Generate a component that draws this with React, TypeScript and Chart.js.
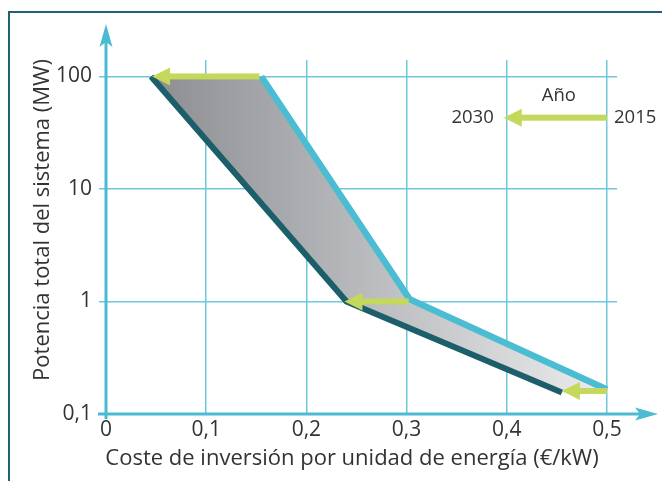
import React, { useEffect, useRef } from "react";
import { Chart, registerables } from "chart.js";

Chart.register(...registerables);

// Axis ticks
const xTicks = [0, 0.1, 0.2, 0.3, 0.4, 0.5];
const xTickLabels = ["0", "0,1", "0,2", "0,3", "0,4", "0,5"];
const yTicks = [0.1, 1, 10, 100];
const yTickLabels = ["0,1", "1", "10", "100"];

// Lower boundary: 2030 investment cost per unit of energy vs. total system power
const cost2030 = [0.045, 0.24, 0.455];
const power2030 = [100, 1, 0.155];

// Upper boundary: 2015
const cost2015 = [0.155, 0.303, 0.5];
const power2015 = [100, 1.05, 0.165];

// Shift arrows, from the 2015 cost to the 2030 cost at the same power
const arrowFromCost = [0.153, 0.302, 0.5];
const arrowToCost = [0.046, 0.238, 0.455];
const arrowPower = [100, 1, 0.16];

// Key: "2030 <- 2015"
const keyTitle = "Año";
const keyFromLabel = "2015";
const keyToLabel = "2030";
const keyFromCost = 0.5;
const keyToCost = 0.397;
const keyPower = 43;
const keyTitleCost = 0.452;
const keyTitlePower = 67;

const xTitle = "Coste de inversión por unidad de energía (€/kW)";
const yTitle = "Potencia total del sistema (MW)";

const FONT = '"Open Sans", "DejaVu Sans", sans-serif';
const TEXT = "#333333";
const AXIS = "#4abbd1";
const GRID = "#6cc8da";
const LIGHT = "#4bbdd3";
const DARK = "#1c5f6a";
const GREEN = "#c4d85c";
const FRAME = "#1f6470";

const toPoints = (xs: number[], ys: number[]) => xs.map((x, i) => ({ x, y: ys[i] }));

function drawArrow(ctx: CanvasRenderingContext2D, x1: number, y: number, x2: number) {
  // horizontal arrow from x1 to tip x2 (pointing left)
  const headLen = 18;
  const headHalf = 9;
  const shaft = 6;
  ctx.save();
  ctx.fillStyle = GREEN;
  ctx.fillRect(x2 + headLen - 1, y - shaft / 2, x1 - (x2 + headLen - 1), shaft);
  ctx.beginPath();
  ctx.moveTo(x2, y);
  ctx.lineTo(x2 + headLen, y - headHalf);
  ctx.lineTo(x2 + headLen, y + headHalf);
  ctx.closePath();
  ctx.fill();
  ctx.restore();
}

const decor = {
  id: "decor",
  beforeDraw(chart: any) {
    const { ctx, width, height } = chart;
    ctx.save();
    ctx.fillStyle = "#ffffff";
    ctx.fillRect(0, 0, width, height);
    ctx.strokeStyle = FRAME;
    ctx.lineWidth = 2;
    ctx.beginPath();
    ctx.moveTo(9, height + 2);
    ctx.lineTo(9, 12);
    ctx.lineTo(width + 2, 12);
    ctx.stroke();
    ctx.restore();
  },
  beforeDatasetsDraw(chart: any) {
    const { ctx, chartArea, scales } = chart;
    const x0 = scales.x.getPixelForValue(0);
    const y0 = scales.y.getPixelForValue(0.1);
    ctx.save();
    ctx.strokeStyle = AXIS;
    ctx.fillStyle = AXIS;
    ctx.lineWidth = 3;
    // vertical axis with arrow
    const yTip = chartArea.top - 36;
    ctx.beginPath();
    ctx.moveTo(x0, y0 + 5);
    ctx.lineTo(x0, yTip + 16);
    ctx.stroke();
    ctx.beginPath();
    ctx.moveTo(x0, yTip);
    ctx.lineTo(x0 + 6.5, yTip + 23);
    ctx.lineTo(x0, yTip + 18);
    ctx.lineTo(x0 - 6.5, yTip + 23);
    ctx.closePath();
    ctx.fill();
    // horizontal axis with arrow
    const xTip = chartArea.right + 41;
    ctx.beginPath();
    ctx.moveTo(x0 - 8, y0);
    ctx.lineTo(xTip - 16, y0);
    ctx.stroke();
    ctx.beginPath();
    ctx.moveTo(xTip, y0);
    ctx.lineTo(xTip - 23, y0 - 6.5);
    ctx.lineTo(xTip - 18, y0);
    ctx.lineTo(xTip - 23, y0 + 6.5);
    ctx.closePath();
    ctx.fill();
    ctx.restore();
  },
  afterDatasetsDraw(chart: any) {
    const { ctx, chartArea, scales } = chart;
    const sx = scales.x;
    const sy = scales.y;
    arrowPower.forEach((p, i) => {
      drawArrow(ctx, sx.getPixelForValue(arrowFromCost[i]), sy.getPixelForValue(p), sx.getPixelForValue(arrowToCost[i]));
    });
    const ky = sy.getPixelForValue(keyPower);
    const kFrom = sx.getPixelForValue(keyFromCost);
    const kTo = sx.getPixelForValue(keyToCost);
    drawArrow(ctx, kFrom, ky, kTo);

    ctx.save();
    ctx.fillStyle = TEXT;
    ctx.font = `18.5px ${FONT}`;
    ctx.textBaseline = "middle";
    ctx.textAlign = "center";
    ctx.fillText(keyTitle, sx.getPixelForValue(keyTitleCost), sy.getPixelForValue(keyTitlePower));
    ctx.textAlign = "right";
    ctx.fillText(keyToLabel, kTo - 10, ky);
    ctx.textAlign = "left";
    ctx.fillText(keyFromLabel, kFrom + 7, ky);

    // axis titles
    ctx.font = `22px ${FONT}`;
    ctx.textAlign = "center";
    ctx.fillText(xTitle, chartArea.left + 246, chartArea.bottom + 45);
    ctx.translate(chartArea.left - 63, chartArea.top + 160);
    ctx.rotate(-Math.PI / 2);
    ctx.fillText(yTitle, 0, 0);
    ctx.restore();
  },
};

export default function App() {
  const ref = useRef<HTMLCanvasElement>(null);

  useEffect(() => {
    let chart: Chart | null = null;
    let cancelled = false;

    const build = () => {
      if (cancelled || !ref.current) return;
      const shape = [
        ...toPoints(cost2030, power2030),
        ...toPoints(cost2015, power2015).reverse(),
      ];
      chart = new Chart(ref.current, {
        type: "scatter",
        data: {
          datasets: [
            {
              label: "2030",
              data: toPoints(cost2030, power2030),
              showLine: true,
              borderColor: DARK,
              borderWidth: 6,
              borderCapStyle: "butt",
              borderJoinStyle: "miter",
              pointRadius: 0,
              order: 1,
            },
            {
              label: "2015",
              data: toPoints(cost2015, power2015),
              showLine: true,
              borderColor: LIGHT,
              borderWidth: 6.5,
              borderCapStyle: "butt",
              borderJoinStyle: "miter",
              pointRadius: 0,
              order: 2,
            },
            {
              label: "range",
              data: shape,
              showLine: true,
              borderWidth: 0,
              pointRadius: 0,
              fill: "shape",
              backgroundColor: (c: any) => {
                const { chart: ch } = c;
                const area = ch.chartArea;
                if (!area) return "#b5b6b9";
                const sx = ch.scales.x;
                const g = ch.ctx.createLinearGradient(
                  sx.getPixelForValue(Math.min(...cost2030)),
                  0,
                  sx.getPixelForValue(Math.max(...cost2015)),
                  0
                );
                g.addColorStop(0, "#8d8e92");
                g.addColorStop(1, "#ebeced");
                return g;
              },
              order: 3,
            },
          ],
        },
        options: {
          animation: false,
          responsive: false,
          layout: { padding: { top: 60, right: 45, left: 0, bottom: 0 } },
          plugins: {
            legend: { display: false },
            tooltip: { enabled: false },
          },
          scales: {
            x: {
              type: "linear",
              min: 0,
              max: 0.51,
              afterFit: (s: any) => {
                s.height = 67;
              },
              afterBuildTicks: (s: any) => {
                s.ticks = xTicks.map((v) => ({ value: v }));
              },
              ticks: {
                callback: (_v: any, i: number) => xTickLabels[i],
                color: TEXT,
                font: { family: FONT, size: 21 },
                padding: 3,
                autoSkip: false,
                maxRotation: 0,
              },
              grid: { color: GRID, lineWidth: 1.5, drawTicks: false },
              border: { display: false },
            },
            y: {
              type: "logarithmic",
              min: 0.1,
              max: 140,
              afterFit: (s: any) => {
                s.width = 106;
              },
              afterBuildTicks: (s: any) => {
                s.ticks = yTicks.map((v) => ({ value: v }));
              },
              ticks: {
                callback: (_v: any, i: number) => yTickLabels[i],
                color: TEXT,
                font: { family: FONT, size: 21 },
                padding: 7,
                autoSkip: false,
              },
              grid: { color: GRID, lineWidth: 1.5, tickLength: 7 },
              border: { display: false },
            },
          },
        },
        plugins: [decor],
      } as any);
    };

    const fonts = (document as any).fonts;
    if (fonts && fonts.load) {
      Promise.all([fonts.load(`21px "Open Sans"`), fonts.load(`22px "Open Sans"`)])
        .catch(() => null)
        .then(build);
    } else {
      build();
    }

    return () => {
      cancelled = true;
      if (chart) chart.destroy();
    };
  }, []);

  return (
    <div style={{ position: "fixed", left: 0, top: 0, width: 662, height: 481, background: "#fff" }}>
      <canvas ref={ref} width={662} height={481} style={{ display: "block" }} />
    </div>
  );
}
